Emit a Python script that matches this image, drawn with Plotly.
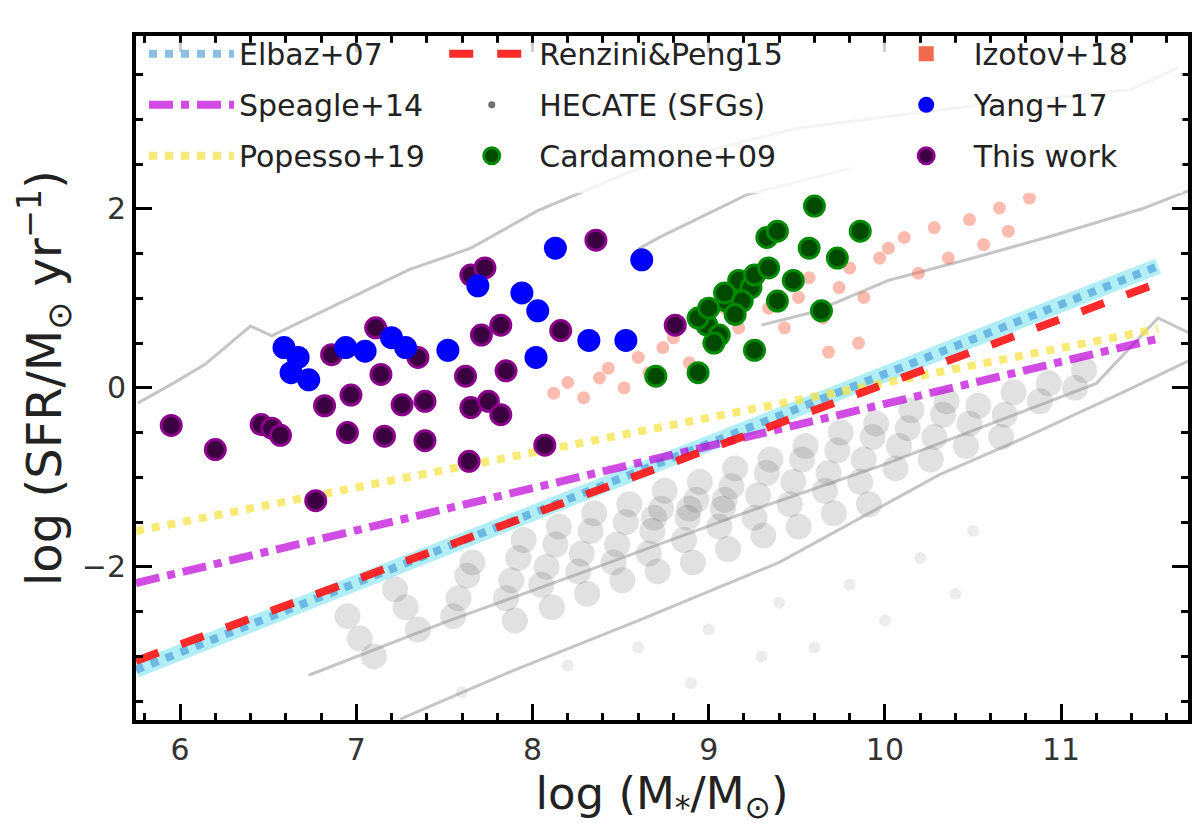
import plotly.graph_objects as go

# main-sequence relations (end points)
line_x = [5.75, 11.55]
elbaz_y = [-3.15, 1.36]
renzini_y = [-3.05, 1.17]
speagle_y = [-2.18, 0.55]
popesso_y = [-1.60, 0.66]

# HECATE star-forming galaxies (dense cloud)
hecate_x = [
    7.02, 6.95, 7.10,
    7.28, 7.35, 7.22,
    7.58, 7.63, 7.55, 7.66,
    7.88, 7.92, 7.85, 7.95, 7.90,
    8.08, 8.13, 8.05, 8.15, 8.11,
    8.28, 8.33, 8.26, 8.35, 8.31,
    8.48, 8.53, 8.46, 8.55, 8.51,
    8.68, 8.73, 8.66, 8.75, 8.71, 8.69,
    8.88, 8.93, 8.86, 8.95, 8.91, 8.89,
    9.08, 9.13, 9.06, 9.15, 9.11, 9.09,
    9.28, 9.33, 9.26, 9.35, 9.31,
    9.48, 9.53, 9.46, 9.55, 9.51,
    9.68, 9.73, 9.66, 9.75, 9.71,
    9.88, 9.93, 9.86, 9.95, 9.91,
    10.08, 10.13, 10.06, 10.15,
    10.28, 10.33, 10.26, 10.35,
    10.48, 10.53, 10.46,
    10.68, 10.73, 10.66,
    10.88, 10.93,
    11.08, 11.13,
]
hecate_y = [
    -2.80, -2.55, -3.00,
    -2.45, -2.70, -2.25,
    -2.35, -2.10, -2.55, -1.95,
    -2.15, -1.90, -2.35, -1.70, -2.60,
    -2.00, -1.75, -2.20, -1.55, -2.45,
    -1.85, -1.60, -2.05, -1.40, -2.30,
    -1.75, -1.50, -1.95, -1.30, -2.15,
    -1.60, -1.35, -1.85, -1.15, -2.05, -1.45,
    -1.45, -1.25, -1.70, -1.05, -1.95, -1.35,
    -1.35, -1.10, -1.55, -0.90, -1.80, -1.25,
    -1.20, -0.95, -1.45, -0.80, -1.65,
    -1.05, -0.80, -1.30, -0.65, -1.55,
    -0.95, -0.70, -1.15, -0.50, -1.40,
    -0.80, -0.55, -1.05, -0.40, -1.30,
    -0.65, -0.45, -0.90, -0.25,
    -0.55, -0.30, -0.80, -0.15,
    -0.40, -0.20, -0.65,
    -0.30, -0.05, -0.55,
    -0.15, 0.05,
    0.00, 0.20,
]
# sparse HECATE galaxies below the cloud
hecate_sparse_x = [8.6, 9.0, 9.4, 9.8, 10.2, 10.0, 9.3, 10.5, 8.9, 8.2, 7.6, 9.6, 10.4]
hecate_sparse_y = [-2.9, -2.7, -2.4, -2.2, -1.9, -2.6, -3.0, -1.6, -3.3, -3.1, -3.4, -2.9, -2.3]

# HECATE density contours
cont_a_x = [5.76, 5.96, 6.14, 6.40, 6.52, 6.73, 7.30, 7.65, 8.03, 8.60, 9.50, 10.50, 11.39, 11.67]
cont_a_y = [-0.17, 0.05, 0.26, 0.69, 0.58, 0.78, 1.32, 1.56, 1.98, 2.45, 2.90, 3.15, 3.33, 3.58]
cont_b_x = [8.60, 8.72, 9.22, 9.80]
cont_b_y = [1.55, 1.68, 2.16, 2.45]
cont_c_x = [9.30, 9.60, 10.02, 10.50, 10.97, 11.46, 11.72]
cont_c_y = [0.70, 0.85, 1.20, 1.45, 1.71, 2.00, 2.20]
cont_d_x = [6.73, 7.50, 8.30, 9.20, 9.99, 10.60, 11.20, 11.55, 11.72]
cont_d_y = [-3.21, -2.62, -2.05, -1.40, -0.86, -0.40, 0.05, 0.78, 0.62]
cont_e_x = [7.25, 7.90, 8.60, 9.40, 10.31, 10.80, 11.35, 11.72]
cont_e_y = [-3.70, -3.15, -2.60, -1.95, -0.97, -0.55, -0.05, 0.30]

# Izotov+18
izotov_x = [8.12, 8.20, 8.29, 8.38, 8.43, 8.52, 8.60, 8.66, 8.74, 8.80,
            8.89, 9.00, 9.09, 9.17, 9.34, 9.43, 9.51, 9.57, 9.65, 9.74,
            9.80, 9.88, 9.97, 10.02, 10.11, 10.19, 10.28, 10.36, 10.48, 10.56,
            10.65, 10.70, 10.82, 9.85, 9.68]
izotov_y = [-0.06, 0.06, -0.11, 0.11, 0.22, 0.00, 0.34, 0.17, 0.45, 0.56,
            0.28, 0.50, 0.89, 0.67, 0.89, 0.67, 1.01, 1.23, 0.78, 1.12,
            1.34, 1.01, 1.45, 1.56, 1.68, 1.28, 1.79, 1.45, 1.88, 1.60,
            2.01, 1.75, 2.12, 0.50, 0.40]

# Cardamone+09 (green peas)
cardamone_x = [9.60, 9.33, 9.39, 9.86, 9.57, 9.73, 9.48, 9.17, 9.24, 9.10, 9.19, 8.99,
               9.06, 9.39, 9.64, 9.26, 8.94, 8.70, 8.94, 9.26, 9.15, 9.00, 9.09, 9.34, 9.03]
cardamone_y = [2.03, 1.68, 1.75, 1.75, 1.56, 1.45, 1.20, 1.20, 1.12, 0.97, 0.97, 0.70,
               0.59, 0.97, 0.86, 0.42, 0.17, 0.13, 0.78, 1.26, 0.82, 0.89, 1.06, 1.34, 0.50]

# Yang+17 (blueberries)
yang_x = [6.59, 6.63, 6.73, 6.67, 6.94, 7.05, 7.20, 7.28, 7.52, 7.69, 7.94, 8.03,
          8.02, 8.13, 8.32, 8.53, 8.62]
yang_y = [0.45, 0.17, 0.09, 0.34, 0.45, 0.41, 0.56, 0.45, 0.42, 1.14, 1.06, 0.86,
          0.34, 1.56, 0.53, 0.53, 1.43]

# this work
work_x = [5.95, 6.20, 6.46, 6.52, 6.57, 6.82, 6.97, 6.95, 7.16, 7.39, 7.26, 7.39,
          7.14, 7.11, 7.62, 7.65, 7.75, 7.82, 7.64, 7.71, 7.82, 7.85, 7.65, 7.73,
          8.16, 8.36, 8.07, 6.77, 6.86, 7.35, 8.81]
work_y = [-0.42, -0.69, -0.41, -0.45, -0.53, -0.20, -0.08, -0.50, -0.54, -0.59, -0.19, -0.15,
          0.15, 0.67, 0.13, -0.22, -0.15, -0.30, -0.82, 0.59, 0.70, 0.19, 1.26, 1.34,
          0.64, 1.65, -0.64, -1.26, 0.37, 0.34, 0.70]

fig = go.Figure()

# background sample
fig.add_trace(go.Scatter(x=hecate_x, y=hecate_y, mode="markers", showlegend=False,
                         marker=dict(size=26, color="rgba(70,70,70,0.16)")))
fig.add_trace(go.Scatter(x=hecate_sparse_x, y=hecate_sparse_y, mode="markers", showlegend=False,
                         marker=dict(size=12, color="rgba(120,120,120,0.14)")))
for cx, cy in [(cont_a_x, cont_a_y), (cont_b_x, cont_b_y), (cont_c_x, cont_c_y),
               (cont_d_x, cont_d_y), (cont_e_x, cont_e_y)]:
    fig.add_trace(go.Scatter(x=cx, y=cy, mode="lines", showlegend=False, hoverinfo="skip",
                             line=dict(color="rgba(150,150,150,0.55)", width=3)))

fig.add_trace(go.Scatter(x=izotov_x, y=izotov_y, mode="markers", showlegend=False,
                         marker=dict(size=13, color="rgba(245,95,65,0.42)")))

# relations
fig.add_trace(go.Scatter(x=line_x, y=elbaz_y, mode="lines", showlegend=False, hoverinfo="skip",
                         line=dict(color="rgba(0,200,225,0.3)", width=16)))
fig.add_trace(go.Scatter(x=line_x, y=elbaz_y, mode="lines", name="Elbaz+07",
                         legend="legend", legendgroup="a1", legendrank=1,
                         line=dict(color="rgba(60,150,215,0.6)", width=8, dash="dot")))
fig.add_trace(go.Scatter(x=line_x, y=speagle_y, mode="lines", name="Speagle+14",
                         legend="legend", legendgroup="a2", legendrank=2,
                         line=dict(color="rgba(190,0,215,0.7)", width=8, dash="dashdot")))
fig.add_trace(go.Scatter(x=line_x, y=popesso_y, mode="lines", name="Popesso+19",
                         legend="legend", legendgroup="a3", legendrank=3,
                         line=dict(color="rgba(245,225,60,0.7)", width=8, dash="dot")))
fig.add_trace(go.Scatter(x=line_x, y=renzini_y, mode="lines", name="Renzini&Peng15",
                         legend="legend2", legendgroup="b1", legendrank=4,
                         line=dict(color="rgba(255,20,20,0.9)", width=8, dash="dash")))

# legend-only entries for the translucent samples
fig.add_trace(go.Scatter(x=[None], y=[None], mode="markers", name="HECATE (SFGs)",
                         legend="legend2", legendgroup="b2", legendrank=5,
                         marker=dict(size=7, color="#707070")))
fig.add_trace(go.Scatter(x=[None], y=[None], mode="markers", name="Izotov+18",
                         legend="legend3", legendgroup="c1", legendrank=7,
                         marker=dict(size=15, color="rgba(240,80,45,0.85)", symbol="square")))

fig.add_trace(go.Scatter(x=cardamone_x, y=cardamone_y, mode="markers", name="Cardamone+09",
                         legend="legend2", legendgroup="b3", legendrank=6,
                         marker=dict(size=20, color="#004a00", line=dict(color="#008a00", width=3))))
fig.add_trace(go.Scatter(x=work_x, y=work_y, mode="markers", name="This work",
                         legend="legend3", legendgroup="c3", legendrank=9,
                         marker=dict(size=20, color="#3a0040", line=dict(color="#8a008a", width=3))))
fig.add_trace(go.Scatter(x=yang_x, y=yang_y, mode="markers", name="Yang+17",
                         legend="legend3", legendgroup="c2", legendrank=8,
                         marker=dict(size=23, color="#0000ff")))

leg_common = dict(yanchor="top", y=1.012, bgcolor="rgba(0,0,0,0)", itemwidth=85,
                  font=dict(family="DejaVu Sans", size=30, color="#222"),
                  traceorder="grouped", tracegroupgap=9)
fig.update_layout(
    width=1200, height=828,
    margin=dict(l=128, r=20, t=28, b=116),
    plot_bgcolor="white", paper_bgcolor="white",
    font=dict(family="DejaVu Sans", color="#222"),
    legend=dict(x=0.0076, **leg_common),
    legend2=dict(x=0.293, **leg_common),
    legend3=dict(x=0.706, **leg_common),
    shapes=[dict(type="rect", xref="paper", yref="paper", x0=0.008, x1=0.995, y0=0.77, y1=0.99,
                 fillcolor="rgba(255,255,255,0.8)", line=dict(width=0), layer="above")],
)
axis_common = dict(showline=True, linecolor="black", linewidth=4, mirror="ticks",
                   ticks="inside", ticklen=16, tickwidth=3, tickcolor="black",
                   showgrid=False, zeroline=False,
                   tickfont=dict(family="DejaVu Sans", size=30, color="#333"))
fig.update_xaxes(range=[5.75, 11.72], dtick=1, tick0=6,
                 minor=dict(ticks="inside", ticklen=7, tickwidth=3, dtick=0.2, tickcolor="black"),
                 title=dict(text="log (M<sub>*</sub>/M<sub>⊙</sub>)", font=dict(size=45), standoff=6),
                 **axis_common)
fig.update_yaxes(range=[-3.71, 3.93], dtick=2, tick0=0,
                 minor=dict(ticks="inside", ticklen=7, tickwidth=3, dtick=0.5, tickcolor="black"),
                 title=dict(text="log (SFR/M<sub>⊙</sub> yr<sup>−1</sup>)", font=dict(size=48), standoff=6),
                 **axis_common)

fig.write_html("out.html")
